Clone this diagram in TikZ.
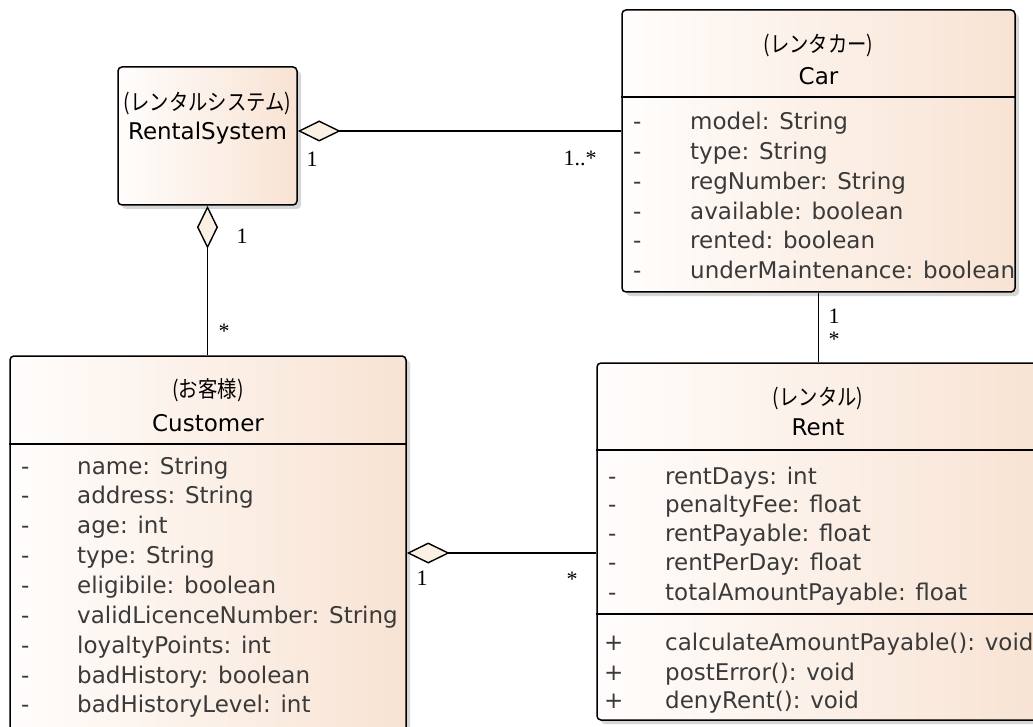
\documentclass[tikz,border=0pt]{standalone}
\usepackage{fontspec}
\setmainfont{DejaVu Sans}
\newfontfamily\jpfont[FakeStretch=0.86]{Noto Sans CJK JP}
\newfontfamily\labfont{Liberation Serif}
\usetikzlibrary{arrows.meta,shadows}
\definecolor{boxL}{HTML}{FFFDFC}
\definecolor{boxR}{HTML}{F8E3D3}
\definecolor{dfill}{HTML}{FBF0E4}
\definecolor{attr}{HTML}{3A3A3A}
\definecolor{shadowc}{HTML}{D6D6D6}
\tikzset{
  cls/.style={draw=black, line width=1.5pt, rounded corners=4pt,
    left color=boxL, right color=boxR, inner sep=0pt,
    drop shadow={shadow xshift=4pt, shadow yshift=-4pt, fill=shadowc, opacity=1}},
  head/.style={font=\fontsize{23}{26}\selectfont, text=black, inner sep=0pt},
  jphead/.style={font=\jpfont\fontsize{22.5}{26}\selectfont, text=black, inner sep=0pt},
  vis/.style={font=\fontsize{23}{26}\selectfont, text=attr, anchor=mid west, inner sep=0pt},
  mem/.style={font=\fontsize{23}{26}\selectfont, text=attr, anchor=mid west, inner sep=0pt},
  divline/.style={line width=1.5pt},
  conn/.style={line width=1.6pt},
  agg/.style={conn, {Diamond[length=43pt, width=21pt, fill=dfill, line width=1.4pt]}-},
  mult/.style={font=\labfont\fontsize{22}{24}\selectfont, inner sep=0pt}
}
\begin{document}
\begin{tikzpicture}[x=1pt, y=-1pt]
\useasboundingbox (0,0) rectangle (1033,727);

% class boxes
\node[cls, minimum width=179pt, minimum height=138pt] (rs) at (207.5,136) {};
\node[cls, minimum width=393pt, minimum height=282pt] (car) at (818.5,151) {};
\node[cls, minimum width=396pt, minimum height=380pt] (cust) at (208,546) {};
\node[cls, minimum width=442pt, minimum height=357pt] (rent) at (818,541.5) {};

% compartment dividers
\draw[divline] (car.west |- 0,97) -- (car.east |- 0,97);
\draw[divline] (cust.west |- 0,444) -- (cust.east |- 0,444);
\draw[divline] (rent.west |- 0,450) -- (rent.east |- 0,450);
\draw[divline] (rent.west |- 0,614) -- (rent.east |- 0,614);

% RentalSystem
\node[jphead] (rsj) at (207.5,104) {(レンタルシステム)};
\node[head] (rsn) at (207.5,133) {RentalSystem};

% Car
\node[jphead] (carj) at (818.5,46) {(レンタカー)};
\node[head] (carn) at (818.5,76) {Car};
\foreach \t/\yy [count=\i] in {model: String/122, type: String/152, regNumber: String/182,
    available: boolean/212, rented: boolean/241, underMaintenance: boolean/271}{
  \node[vis] (carv\i) at (633,\yy+5) {-};
  \node[mem] (cara\i) at (690,\yy+5) {\t};
}

% Customer
\node[jphead] (custj) at (208,390) {(お客様)};
\node[head] (custn) at (208,423) {Customer};
\foreach \t/\yy [count=\i] in {name: String/467, address: String/496, age: int/526,
    type: String/556, eligibile: boolean/586, validLicenceNumber: String/616,
    loyaltyPoints: int/646, badHistory: boolean/676, badHistoryLevel: int/705}{
  \node[vis] (custv\i) at (21,\yy+5) {-};
  \node[mem] (custa\i) at (77,\yy+5) {\t};
}

% Rent
\node[jphead] (rentj) at (818,399) {(レンタル)};
\node[head] (rentn) at (818,427) {Rent};
\foreach \t/\yy [count=\i] in {rentDays: int/477, penaltyFee: float/505,
    rentPayable: float/534, rentPerDay: float/563, totalAmountPayable: float/593}{
  \node[vis] (rentv\i) at (608,\yy+5) {-};
  \node[mem] (renta\i) at (665,\yy+5) {\t};
}
\foreach \t/\yy [count=\i] in {calculateAmountPayable(): void/643,
    postError(): void/673, denyRent(): void/701}{
  \node[vis] (rento\i) at (604,\yy+5) {+};
  \node[mem] (rentm\i) at (665,\yy+5) {\t};
}

% associations
\draw[agg] (rs.east |- 0,131) -- (car.west |- 0,131);
\draw[agg] (rs.south) -- (rs.south |- cust.north);
\draw[conn] (car.south) -- (car.south |- rent.north);
\draw[agg] (cust.east |- 0,553) -- (rent.west |- 0,553);

% multiplicities
\node[mult] (m1) at (312,159) {1};
\node[mult] (m2) at (580,158) {1..*};
\node[mult] (m3) at (242,236) {1};
\node[mult] (m4) at (224,331) {*};
\node[mult] (m5) at (834,316) {1};
\node[mult] (m6) at (834,339) {*};
\node[mult] (m7) at (422,578) {1};
\node[mult] (m8) at (572,579) {*};
\end{tikzpicture}
\end{document}
